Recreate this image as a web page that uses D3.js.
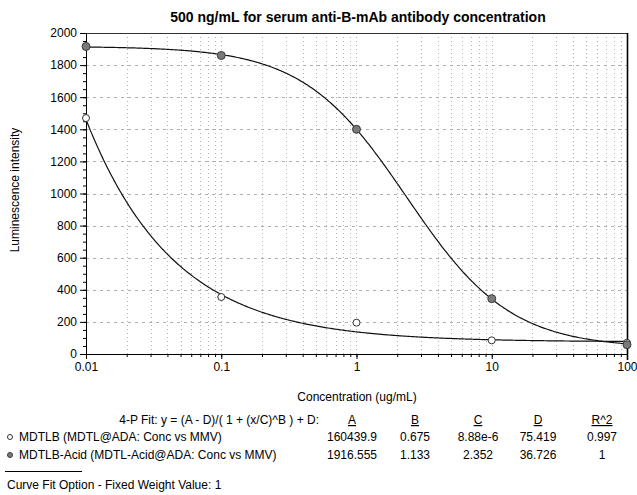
<!DOCTYPE html>
<html><head><meta charset="utf-8">
<script src="https://cdn.jsdelivr.net/npm/d3@7"></script>
<style>
body{margin:0;background:#fff}
svg{display:block}
text{font-family:"Liberation Sans",Arial,sans-serif;fill:#000}
</style>
</head><body><svg id="c" width="637" height="495"></svg>
<script>
// ---- data ----
const concentrations = [0.01, 0.1, 1, 10, 100];
const mdtlbValues = [1470, 355, 195, 85, 70];
const acidValues = [1916, 1860, 1400, 345, 58];
const seriesNames = ["MDTLB (MDTL@ADA: Conc vs MMV)", "MDTLB-Acid (MDTL-Acid@ADA: Conc vs MMV)"];
const fitHeaders = ["A", "B", "C", "D", "R^2"];
const mdtlbFit = [160439.9, 0.675, 8.88e-6, 75.419];
const acidFit = [1916.555, 1.133, 2.352, 36.726];
const mdtlbFitLabels = ["160439.9", "0.675", "8.88e-6", "75.419", "0.997"];
const acidFitLabels = ["1916.555", "1.133", "2.352", "36.726", "1"];
const xTickValues = [0.01, 0.1, 1, 10, 100];
const xTickLabels = ["0.01", "0.1", "1", "10", "100"];
const yTickValues = [0, 200, 400, 600, 800, 1000, 1200, 1400, 1600, 1800, 2000];

// ---- layout ----
const L = 86, R = 627, T = 33, B = 354;
const svg = d3.select("#c");
const x = d3.scaleLog().domain([0.01, 100]).range([L, R]);
const y = d3.scaleLinear().domain([0, 2000]).range([B, T]);

// minor log values
const minorX = [];
[0.01, 0.1, 1, 10].forEach(d => { for (let k = 1; k <= 9; k++) minorX.push(d * k); });
minorX.push(100);
const minorY = d3.range(0, 2001, 50);

// grid
const grid = svg.append("g").attr("stroke", "#b0b0b0").attr("stroke-width", 1).attr("stroke-dasharray", "1,3");
grid.selectAll(".vg").data(minorX).join("line")
  .attr("x1", d => Math.round(x(d)) + 0.5).attr("x2", d => Math.round(x(d)) + 0.5)
  .attr("y1", T).attr("y2", B);
grid.selectAll(".hg").data(yTickValues).join("line")
  .attr("x1", L).attr("x2", R)
  .attr("y1", d => Math.round(y(d)) + 0.5).attr("y2", d => Math.round(y(d)) + 0.5)
  .attr("stroke-dasharray", "3,4");

// fit curves (4-P logistic with parameters from table)
const fourP = (p, c) => (p[0] - p[3]) / (1 + Math.pow(c / p[2], p[1])) + p[3];
const samples = d3.range(0, 401).map(i => Math.pow(10, -2 + i * 4 / 400));
const line = d3.line().x(d => x(d[0])).y(d => y(d[1]));
[mdtlbFit, acidFit].forEach(p => {
  svg.append("path").datum(samples.map(c => [c, fourP(p, c)]))
    .attr("d", line).attr("fill", "none").attr("stroke", "#111").attr("stroke-width", 1.2);
});

// frame
svg.append("rect").attr("x", L + 0.5).attr("y", T + 0.5).attr("width", R - L).attr("height", B - T)
  .attr("fill", "none").attr("stroke", "#333").attr("stroke-width", 1);
svg.append("line").attr("x1", R + 0.5).attr("x2", R + 0.5).attr("y1", T).attr("y2", B + 6)
  .attr("stroke", "#000").attr("stroke-width", 1.6);

// axes
const yAxis = svg.append("g").attr("transform", `translate(${L},0)`)
  .call(d3.axisLeft(y).tickValues(yTickValues).tickSize(6).tickPadding(3).tickFormat(d3.format("d")));
const yMinor = svg.append("g").attr("transform", `translate(${L},0)`)
  .call(d3.axisLeft(y).tickValues(minorY).tickSize(3).tickFormat(""));
const xAxis = svg.append("g").attr("transform", `translate(0,${B})`)
  .call(d3.axisBottom(x).tickValues(xTickValues).tickSize(5).tickPadding(3).tickFormat((d, i) => xTickLabels[i]));
const xMinor = svg.append("g").attr("transform", `translate(0,${B})`)
  .call(d3.axisBottom(x).tickValues(minorX).tickSize(3).tickFormat(""));
[yAxis, yMinor, xAxis, xMinor].forEach(g => {
  g.select(".domain").attr("stroke", "#000");
  g.selectAll(".tick line").attr("stroke", "#000");
  g.selectAll("text").attr("font-size", 12).attr("font-family", '"Liberation Sans",Arial,sans-serif');
});

// points
svg.append("g").selectAll("circle").data(concentrations).join("circle")
  .attr("cx", d => x(d)).attr("cy", (d, i) => y(mdtlbValues[i])).attr("r", 3.5)
  .attr("fill", "#fff").attr("stroke", "#333").attr("stroke-width", 1);
svg.append("g").selectAll("circle").data(concentrations).join("circle")
  .attr("cx", d => x(d)).attr("cy", (d, i) => y(acidValues[i])).attr("r", 4)
  .attr("fill", "#7a7a7a").attr("stroke", "#3a3a3a").attr("stroke-width", 1);

// title & labels
svg.append("text").attr("x", 358).attr("y", 22).attr("text-anchor", "middle")
  .attr("font-size", 14).attr("font-weight", "bold")
  .text("500 ng/mL for serum anti-B-mAb antibody concentration");
svg.append("text").attr("transform", "translate(19,190) rotate(-90)").attr("text-anchor", "middle")
  .attr("font-size", 12).text("Luminescence intensity");
svg.append("text").attr("x", 357).attr("y", 401).attr("text-anchor", "middle")
  .attr("font-size", 12).text("Concentration (ug/mL)");

// fit table
const colX = [352, 415, 478, 538, 602];
svg.append("text").attr("x", 319).attr("y", 424).attr("text-anchor", "end").attr("font-size", 12)
  .text("4-P Fit: y = (A - D)/( 1 + (x/C)^B ) + D:");
svg.append("g").selectAll("text").data(fitHeaders).join("text")
  .attr("x", (d, i) => colX[i]).attr("y", 424).attr("text-anchor", "middle").attr("font-size", 12)
  .style("text-decoration", "underline").text(d => d);
[mdtlbFitLabels, acidFitLabels].forEach((labels, r) => {
  const yy = 441 + r * 18;
  svg.append("g").selectAll("text").data(labels).join("text")
    .attr("x", (d, i) => colX[i]).attr("y", yy).attr("text-anchor", "middle").attr("font-size", 12).text(d => d);
  svg.append("text").attr("x", 19).attr("y", yy).attr("font-size", 12).text(seriesNames[r]);
});
svg.append("circle").attr("cx", 10).attr("cy", 437).attr("r", 2.5).attr("fill", "#fff").attr("stroke", "#333");
svg.append("circle").attr("cx", 10).attr("cy", 455).attr("r", 2.5).attr("fill", "#7a7a7a").attr("stroke", "#3a3a3a");

// footnote
svg.append("line").attr("x1", 5).attr("x2", 82).attr("y1", 471.5).attr("y2", 471.5).attr("stroke", "#000");
svg.append("text").attr("x", 7).attr("y", 489).attr("font-size", 12).text("Curve Fit Option - Fixed Weight Value:  1");
</script>
</body></html>
